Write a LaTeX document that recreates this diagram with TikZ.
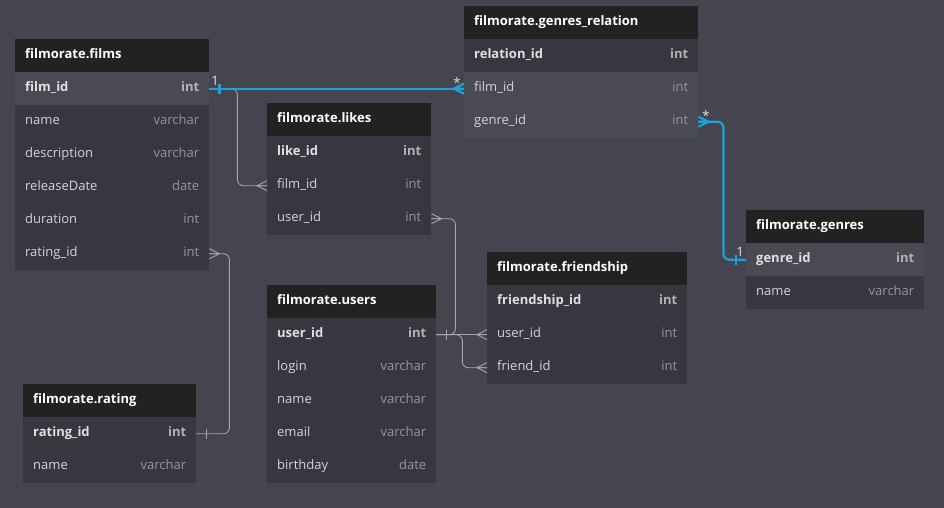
\documentclass[tikz,border=0pt]{standalone}
\usepackage{fontspec}
\setmainfont{Open Sans}
\usepackage{xcolor}
\usepackage{tikz}
\usetikzlibrary{calc,positioning}

\definecolor{bg}{RGB}{69,69,79}
\definecolor{hd}{RGB}{34,34,34}
\definecolor{rw}{RGB}{55,55,64}
\definecolor{hl}{RGB}{74,74,84}
\definecolor{lnk}{RGB}{29,161,214}
\definecolor{ln}{RGB}{165,165,172}
\definecolor{tx}{RGB}{212,212,216}
\definecolor{ty}{RGB}{150,150,156}

\begin{document}
\begin{tikzpicture}[x=1pt,y=-1pt,
  cell/.style={rectangle, anchor=north west, minimum height=33pt, inner xsep=10pt, inner ysep=0pt, text height=9pt, text depth=4pt, font=\fontsize{13}{15}\selectfont},
  head/.style={cell, fill=hd, text=white, font=\bfseries\fontsize{13}{15}\selectfont},
  row/.style={cell, fill=rw, text=tx},
  pk/.style={cell, fill=rw, text=white!88!black, font=\bfseries\fontsize{13}{15}\selectfont},
  hlrow/.style={fill=hl},
  card/.style={text=white!90!black, font=\fontsize{13}{14}\selectfont, inner sep=0pt},
  gry/.style={color=ln, line width=0.9pt},
  blk/.style={color=lnk, line width=2.2pt},
  crow/.pic={\draw (0,-5) -- (10,0) -- (0,5) (0,0) -- (10,0);},
  one/.pic={\draw (10,-5) -- (10,5);}]
  \fill[bg] (0,0) rectangle (944,508); %背景 同时固定了画布大小

  % filmorate.films
  \node[head, text width=174pt] (films) at (15,39) {filmorate.films};
  \node[pk, hlrow, text width=174pt] (films-fid) at (15,72) {film\_id\hspace{0pt plus 1filll}\textcolor{white!70!black}{int}};
  \foreach \k/\f/\t [count=\i] in {nm/name/varchar, ds/description/varchar, rd/releaseDate/date, du/duration/int, rid/rating\_id/int}
    \node[row, text width=174pt] (films-\k) at (15,{72+33*\i}) {\f\hspace{0pt plus 1filll}\textcolor{ty}{\t}};

  % filmorate.likes
  \node[head, text width=144pt] (likes) at (267,103) {filmorate.likes};
  \node[pk, text width=144pt] (likes-lid) at (267,136) {like\_id\hspace{0pt plus 1filll}\textcolor{white!70!black}{int}};
  \foreach \k/\f/\t [count=\i] in {fid/film\_id/int, uid/user\_id/int}
    \node[row, text width=144pt] (likes-\k) at (267,{136+33*\i}) {\f\hspace{0pt plus 1filll}\textcolor{ty}{\t}};

  % filmorate.genres_relation
  \node[head, text width=214pt] (rel) at (464,6) {filmorate.genres\_relation};
  \node[pk, text width=214pt] (rel-id) at (464,39) {relation\_id\hspace{0pt plus 1filll}\textcolor{white!70!black}{int}};
  \foreach \k/\f/\t [count=\i] in {fid/film\_id/int, gid/genre\_id/int}
    \node[row, hlrow, text width=214pt] (rel-\k) at (464,{39+33*\i}) {\f\hspace{0pt plus 1filll}\textcolor{ty}{\t}};

  % filmorate.genres
  \node[head, text width=158pt] (genres) at (746,210) {filmorate.genres};
  \node[pk, hlrow, text width=158pt] (genres-gid) at (746,243) {genre\_id\hspace{0pt plus 1filll}\textcolor{white!70!black}{int}};
  \node[row, text width=158pt] (genres-nm) at (746,276) {name\hspace{0pt plus 1filll}\textcolor{ty}{varchar}};

  % filmorate.friendship
  \node[head, text width=180pt] (fr) at (487,252) {filmorate.friendship};
  \node[pk, text width=180pt] (fr-id) at (487,285) {friendship\_id\hspace{0pt plus 1filll}\textcolor{white!70!black}{int}};
  \foreach \k/\f/\t [count=\i] in {uid/user\_id/int, frid/friend\_id/int}
    \node[row, text width=180pt] (fr-\k) at (487,{285+33*\i}) {\f\hspace{0pt plus 1filll}\textcolor{ty}{\t}};

  % filmorate.users
  \node[head, text width=149pt] (users) at (267,285) {filmorate.users};
  \node[pk, text width=149pt] (users-uid) at (267,318) {user\_id\hspace{0pt plus 1filll}\textcolor{white!70!black}{int}};
  \foreach \k/\f/\t [count=\i] in {lg/login/varchar, nm/name/varchar, em/email/varchar, bd/birthday/date}
    \node[row, text width=149pt] (users-\k) at (267,{318+33*\i}) {\f\hspace{0pt plus 1filll}\textcolor{ty}{\t}};

  % filmorate.rating
  \node[head, text width=153pt] (rating) at (23,384) {filmorate.rating};
  \node[pk, text width=153pt] (rating-rid) at (23,417) {rating\_id\hspace{0pt plus 1filll}\textcolor{white!70!black}{int}};
  \node[row, text width=153pt] (rating-nm) at (23,450) {name\hspace{0pt plus 1filll}\textcolor{ty}{varchar}};

  % 灰色连线
  \draw[gry, rounded corners=6pt] (films-fid.east) -- ++(28,0) |- (likes-fid.west);
  \draw[gry, rounded corners=6pt] (likes-uid.east) -- ++(24,0) |- (users-uid.east);
  \draw[gry] (users-uid.east) -- (fr-uid.west);
  \draw[gry, rounded corners=6pt] (users-uid.east) -- ++(26,0) |- (fr-frid.west);
  \draw[gry, rounded corners=6pt] (films-rid.east) -- ++(20,0) |- (rating-rid.east);
  \pic[gry, rotate=180] at (likes-fid.west) {crow};
  \pic[gry] at (likes-uid.east) {crow};
  \pic[gry, rotate=180] at (fr-uid.west) {crow};
  \pic[gry, rotate=180] at (fr-frid.west) {crow};
  \pic[gry] at (films-rid.east) {crow};
  \pic[gry] at (users-uid.east) {one};
  \pic[gry] at (rating-rid.east) {one};

  % 蓝色连线 (选中的关系)
  \draw[blk] (films-fid.east) -- (rel-fid.west);
  \draw[blk, rounded corners=6pt] (rel-gid.east) -- ++(25,0) |- (genres-gid.west);
  \pic[blk] at (films-fid.east) {one};
  \pic[blk, rotate=180] at (rel-fid.west) {crow};
  \pic[blk] at (rel-gid.east) {crow};
  \pic[blk, rotate=180] at (genres-gid.west) {one};
  \node[card] (c-films) at (215,81) {1};
  \node[card] (c-relf) at (457,83) {*};
  \node[card] (c-relg) at (706,116) {*};
  \node[card] (c-genres) at (740,252) {1};
\end{tikzpicture}
\end{document}
